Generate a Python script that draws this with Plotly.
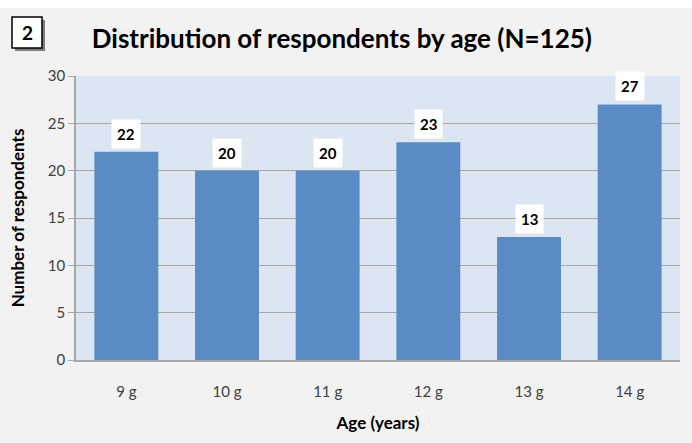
import plotly.graph_objects as go

categories = ["9 g", "10 g", "11 g", "12 g", "13 g", "14 g"]
respondents = [22, 20, 20, 23, 13, 27]
y_ticks = [0, 5, 10, 15, 20, 25, 30]

title_text = "Distribution of respondents by age (N=125)"
x_title = "Age (years)"
y_title = "Number of respondents"
panel_label = "2"

FONT = "Lato, 'DejaVu Sans', sans-serif"
BAR = "#5b8bc5"
GRID = "#a6a6a6"
TXT = "#404040"

fig = go.Figure()
fig.add_trace(go.Bar(
    x=categories, y=respondents,
    marker=dict(color=BAR, line=dict(width=0)),
    hoverinfo="x+y",
))

annotations = []
for c, v in zip(categories, respondents):
    annotations.append(dict(
        x=c, y=v, xref="x", yref="y", text=f"<b>{v}</b>", showarrow=False,
        yshift=18, bgcolor="white", borderpad=5,
        font=dict(family=FONT, size=15, color="black"),
    ))

# panel number "2"
annotations.append(dict(
    x=0, y=1, xref="paper", yref="paper", xshift=-49, yshift=43.5,
    xanchor="center", yanchor="middle",
    text=f"<b>{panel_label}</b>", showarrow=False,
    font=dict(family=FONT, size=19, color="black"),
))

shapes = [
    # white strip at top
    dict(type="rect", xref="paper", yref="paper", xsizemode="pixel", ysizemode="pixel",
         xanchor=0, yanchor=1, x0=-100, x1=700, y0=68, y1=80,
         fillcolor="white", line=dict(width=0), layer="above"),
    # shadow of panel box
    dict(type="rect", xref="paper", yref="paper", xsizemode="pixel", ysizemode="pixel",
         xanchor=0, yanchor=1, x0=-61, x1=-31, y0=25, y1=56,
         fillcolor="#7f7f7f", line=dict(width=0), layer="above"),
    # panel box
    dict(type="rect", xref="paper", yref="paper", xsizemode="pixel", ysizemode="pixel",
         xanchor=0, yanchor=1, x0=-64, x1=-34, y0=28, y1=59,
         fillcolor="white", line=dict(width=1.5, color="black"), layer="above"),
]

fig.update_layout(
    width=692, height=443,
    margin=dict(l=76, r=12, t=76, b=83),
    paper_bgcolor="#f2f2f2",
    plot_bgcolor="#dce6f2",
    bargap=0.365,
    showlegend=False,
    title=dict(text=f"<b>{title_text}</b>", x=0.494, xanchor="center",
               y=1 - 39 / 443, yanchor="middle",
               font=dict(family=FONT, size=26, color="black")),
    xaxis=dict(
        showgrid=False, showline=True, linecolor=GRID, linewidth=1.5,
        ticks="", ticklabelstandoff=17,
        tickfont=dict(family=FONT, size=15, color=TXT),
        title=dict(text=f"<b>{x_title}</b>", standoff=18,
                   font=dict(family=FONT, size=17, color="black")),
    ),
    yaxis=dict(
        range=[0, 30], tickvals=y_ticks, showgrid=True, gridcolor=GRID, gridwidth=1,
        showline=True, linecolor=GRID, linewidth=1.5, zeroline=False,
        ticks="outside", ticklen=6, tickcolor=GRID,
        tickfont=dict(family=FONT, size=15, color=TXT),
        title=dict(text=f"<b>{y_title}</b>", standoff=19,
                   font=dict(family=FONT, size=17, color="black")),
    ),
    annotations=annotations,
    shapes=shapes,
)

fig.write_html("out.html",
               config={"displayModeBar": False},
               post_script="document.body.style.margin='0';document.body.style.padding='0';")
